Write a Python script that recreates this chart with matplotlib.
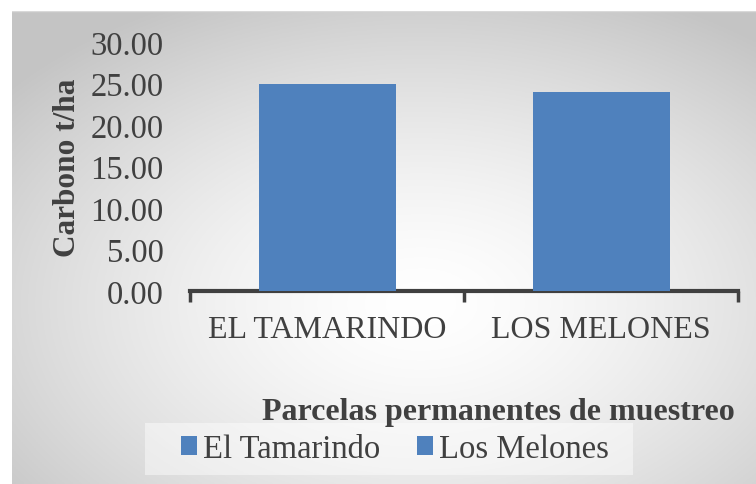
import numpy as np
import matplotlib
matplotlib.use("Agg")
import matplotlib.pyplot as plt
from matplotlib.patches import Patch, Rectangle

categories = ["EL TAMARINDO", "LOS MELONES"]
series_names = ["El Tamarindo", "Los Melones"]
values = [24.95, 24.0]
yticks = [0, 5, 10, 15, 20, 25, 30]

W, H = 756, 485
fig = plt.figure(figsize=(W / 100, H / 100), dpi=100)
fig.patch.set_facecolor("white")

# gradient background
bg = fig.add_axes([12 / W, 0, (W - 12) / W, (H - 12) / H], zorder=0)
nx, ny = 400, 260
xx, yy = np.meshgrid(np.linspace(0, 1, nx), np.linspace(0, 1, ny))
r = np.sqrt(((xx - 0.55) / 0.72) ** 2 + ((yy - 0.62) / 0.72) ** 2)
r = np.clip(r, 0, 1)
v = 1.0 - 0.23 * r ** 1.5
img = np.dstack([v, v, v])
bg.imshow(img, aspect="auto", extent=[0, 1, 0, 1], origin="upper")
bg.axhline(1, color="#d9d9d9", lw=1)
bg.set_axis_off()

textc = "#404040"
plt.rcParams["font.family"] = ["Liberation Serif", "DejaVu Serif"]

ax = fig.add_axes([190 / W, 1 - 292 / H, (738 - 190) / W, (292 - 43) / H], zorder=2)
ax.patch.set_alpha(0)
color = "#4f81bd"
x = np.arange(len(categories))
ax.bar(x, values, width=0.5, color=color, zorder=3)
ax.set_xlim(-0.5, len(categories) - 0.5)
ax.set_ylim(0, 30)
ax.set_yticks(yticks)
ax.set_yticklabels([f"{t:.2f}" for t in yticks], fontsize=23.5, color=textc)
ax.tick_params(axis="y", length=0, pad=19)
ax.set_xticks([-0.5, 0.5, 1.5], minor=False)
ax.set_xticklabels([])
ax.set_xticks(x, minor=True)
ax.set_xticklabels(categories, minor=True, fontsize=23, color=textc)
ax.tick_params(axis="x", which="major", length=8, width=2.5, color=textc, direction="out")
ax.tick_params(axis="x", which="minor", length=0, pad=17)
for s in ["top", "right", "left"]:
    ax.spines[s].set_visible(False)
ax.spines["bottom"].set_color(textc)
ax.spines["bottom"].set_linewidth(3)
ax.set_ylabel("Carbono t/ha", fontsize=22.5, fontweight="bold", color=textc)
ax.yaxis.set_label_coords(-(190 - 82) / (738 - 190), 0.5)

fig.text(498 / W, 1 - 413 / H, "Parcelas permanentes de muestreo", ha="center", va="center",
         fontsize=23, fontweight="bold", color=textc, zorder=3)

# legend background box
fig.patches.append(Rectangle((145 / W, 1 - 476 / H), (633 - 145) / W, (476 - 424) / H,
                             transform=fig.transFigure, facecolor="white", alpha=0.45,
                             edgecolor="none", zorder=1))

handles = [Patch(facecolor=color, label=n) for n in series_names]
leg = fig.legend(handles=handles, loc="center", bbox_to_anchor=(395 / W, 1 - 450 / H), ncol=2,
                 fontsize=23.5, frameon=False, handlelength=0.49, handleheight=0.49, handletextpad=0.21,
                 columnspacing=1.1, borderpad=0, borderaxespad=0)
for t in leg.get_texts():
    t.set_color(textc)

fig.savefig("out.png", dpi=100)
